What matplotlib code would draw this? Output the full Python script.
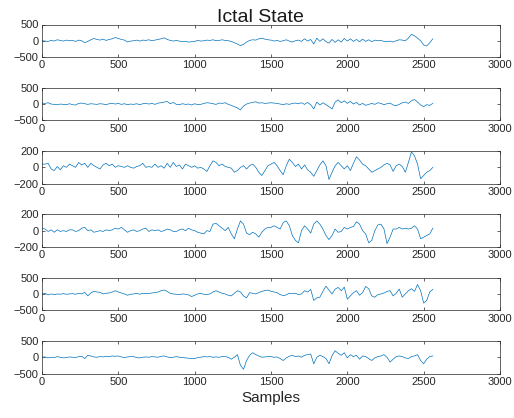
import numpy as np
import matplotlib
matplotlib.use("Agg")
import matplotlib.pyplot as plt

plt.rcParams['font.family'] = ['Liberation Sans', 'DejaVu Sans']

step = 20  # samples between read-off points

ch1 = [0, -10, -20, 10, -10, 30, 10, -10, 20, 0, 10, -20, 20, 0, -60, -20, 30, 70, 40, 20,
       50, 10, 40, 60, 100, 70, 40, 20, -40, -10, 0, 20, -10, 20, 10, 30, 0, 20, 40, 60,
       90, 40, 10, -10, 10, -10, -30, -20, -40, -30, -20, 10, -10, 0, 20, 10, 30, 0, 10, 30,
       10, 0, -20, -60, -100, -150, -110, -40, 10, 30, 20, 60, 80, 50, 30, 20, -10, 10, -20, 0,
       30, -10, -40, 0, 20, -20, 60, -10, 40, -100, 80, -20, 60, -30, -70, 40, -50, 30, -40, 70,
       -10, 60, -20, 40, -30, 50, -20, 30, -30, 20, 0, 10, -20, -30, -10, -40, 0, 30, 20, 0,
       80, 200, 150, 80, 0, -130, -160, -60, 60]

ch2 = [30, 20, 40, 0, -10, -20, 0, -10, -20, 10, -20, -30, 20, 30, 10, -10, 10, 0, -10, 10,
       0, -20, 10, 20, 0, 20, -10, 10, -20, 0, -10, 10, -20, 10, 20, 0, 20, -10, 30, 40,
       60, 80, 10, 50, -10, -20, 10, -10, 0, -30, 10, -20, -10, 20, 40, 30, 10, -10, 30, 20,
       40, -10, -40, -80, -120, -180, -60, 0, 30, 50, 70, 30, 40, 20, 30, 40, 30, 20, 0, -20,
       10, -10, 20, 30, 10, 40, -10, 50, -20, -150, 60, -30, 40, -20, -80, -150, 60, 130, 40, 100,
       20, 80, 0, 50, -30, 20, -40, -10, 20, -10, 40, 20, -20, 10, 30, -30, -50, -10, 40, 60,
       20, 100, 140, 60, -30, -80, -20, -40, 20]

ch3 = [40, 40, 50, -20, -40, 10, -30, 20, 0, 40, 20, 0, 60, 30, 50, 0, 50, 20, 0, -20,
       30, 50, 20, 40, 0, 20, 10, 0, 20, 0, -10, 10, 20, 50, 0, 10, 0, 40, 0, 20,
       -10, 50, 0, 60, 10, 30, -20, 40, 20, 0, 20, -10, 0, -20, -50, 20, 80, 60, 20, 40,
       10, 0, -10, -60, -40, 0, 20, -20, 20, 40, 0, -60, -100, -40, 20, 40, 60, 20, -40, -90,
       20, 100, 60, 10, 40, -20, 30, -30, -60, -110, -40, 30, 80, 20, -150, -60, 20, 60, 20, -20,
       20, -40, 50, 130, 90, 40, 20, -20, -60, -40, -20, 0, 30, 50, 30, -50, 20, 40, 10, -60,
       60, 190, 140, 40, -140, -100, -60, -40, 0]

ch4 = [30, 20, -10, 10, -20, 10, -10, 0, -10, 10, 10, -10, 0, 30, 40, 0, 10, -20, -10, 0,
       -10, 10, 0, 10, 30, 20, 40, 10, -20, 0, 10, -10, 0, 20, 30, -10, 10, 0, 10, -10,
       0, 20, 10, -10, -10, 10, 20, 0, 30, 10, 0, -20, -30, -40, 0, -10, 80, 90, 60, 30,
       0, 40, -40, -100, 20, 120, 80, -30, -50, -20, -40, -80, -20, 20, 40, 40, 60, 40, 20, 100,
       120, 60, -60, -120, -150, 0, 60, 20, -30, 80, 120, 80, 20, -60, -110, -60, 20, -20, -10, 40,
       20, 40, 50, 110, 80, 0, -40, -150, -120, 0, 70, 80, 20, -160, -80, 20, 20, 40, 20, 30,
       20, 30, 60, 20, -100, -80, -60, -40, 30]

ch5 = [0, 20, -30, 0, -20, 0, -10, 10, -10, 0, 10, -10, 20, 0, 50, -60, 30, 80, 60, 50,
       0, 20, 30, 60, 100, 60, 30, 0, -40, -10, 0, 20, -10, 20, 10, 10, 30, 40, 60, 100,
       120, 80, 20, 0, -10, -20, 0, -10, -30, -80, -40, 0, 20, -10, -20, 0, 60, 100, 60, 20,
       0, -40, -60, 20, 100, 60, -60, -120, 40, 20, 0, 40, 80, 100, 120, 80, 60, 40, -20, -50,
       -30, 20, 10, 20, -20, 0, 100, 60, 140, -200, -120, -100, 80, 240, 120, 0, 150, 200, 100, 210,
       -160, -60, 40, 100, -40, 40, 230, 160, -60, -100, -20, 0, 30, 80, 100, -60, 20, 150, -100, 0,
       100, 160, 80, 290, 100, -280, -200, 60, 140]

ch6 = [0, 10, -20, 0, -10, 20, 0, -20, -10, 10, 0, -10, 20, 30, -40, 60, 40, 10, 0, 20,
       10, 30, 20, 40, 30, 40, 10, -10, 10, 20, 20, -10, -20, 0, 10, 0, 20, 10, 0, 30,
       40, 10, -10, 0, 20, 0, -10, -20, -30, -40, -40, -10, 0, 20, 10, 20, 0, 10, 0, 20,
       20, 0, -60, 0, 80, -250, -370, -100, 60, 140, 80, 40, 0, 10, 20, 20, 0, 10, -40, -100,
       -20, 30, 60, 20, 40, 0, 60, 80, 100, -200, 0, 60, 20, -40, -200, 50, 200, 120, 60, 140,
       -20, 80, 20, 60, -60, 40, 20, -40, -100, -20, 20, 40, 80, 0, -150, -60, 20, 40, 20, -20,
       -40, 20, 40, 80, -100, -200, -60, 20, 40]

channels = [ch1, ch2, ch3, ch4, ch5, ch6]
ylims = [500, 500, 200, 200, 500, 500]
xticks = [0, 500, 1000, 1500, 2000, 2500, 3000]

W, H = 514, 418
fig = plt.figure(figsize=(W / 100, H / 100), dpi=100)
fig.patch.set_facecolor('white')

left, right = 42, 500
top0, gap, hgt = 24.5, 63.3, 32.5
line_color = '#0072BD'
axis_color = '#262626'

for k, (data, yl) in enumerate(zip(channels, ylims)):
    top = top0 + gap * k
    ax = fig.add_axes([left / W, 1 - (top + hgt) / H, (right - left) / W, hgt / H])
    x = np.arange(len(data)) * step
    ax.plot(x, data, color=line_color, linewidth=0.5)
    ax.set_xlim(0, 3000)
    ax.set_ylim(-yl, yl)
    ax.set_xticks(xticks)
    ax.set_yticks([-yl, 0, yl])
    ax.tick_params(direction='in', top=True, right=True, length=2.5, width=0.5,
                   labelsize=8, colors=axis_color, pad=2.5)
    for sp in ax.spines.values():
        sp.set_linewidth(0.5)
        sp.set_color(axis_color)
    if k == 0:
        ax.set_title('Ictal State', fontsize=14, color='#1a1a1a', pad=2, x=0.476)
    if k == 5:
        ax.set_xlabel('Samples', fontsize=11, color=axis_color, labelpad=3)

fig.savefig('out.png', dpi=100)
